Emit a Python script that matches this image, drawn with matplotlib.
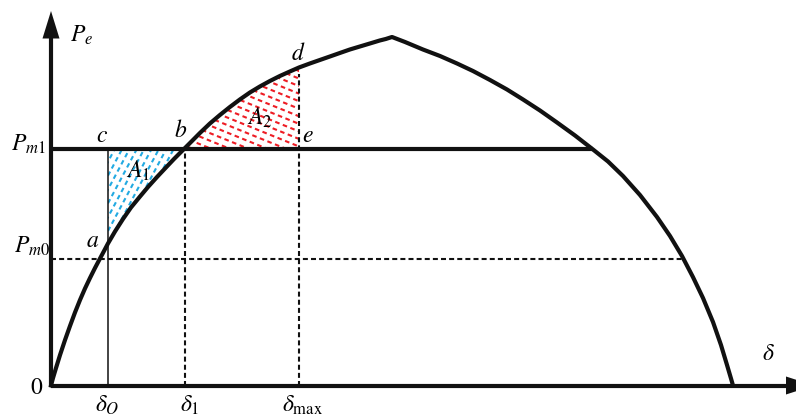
import numpy as np
import matplotlib
matplotlib.use("Agg")
import matplotlib.pyplot as plt
from matplotlib.patches import Polygon
from matplotlib.lines import Line2D

plt.rcParams["mathtext.fontset"] = "stix"
plt.rcParams["font.family"] = ["Liberation Serif", "DejaVu Serif"]

# Power-angle curve P_e(delta): angle in degrees, power in per unit of P_max
delta_deg = [0.00, 0.53, 1.32, 2.38, 3.70, 5.01, 6.33, 7.65, 8.97, 10.29, 11.61,
             12.93, 13.99, 15.04, 16.89, 19.00, 21.11, 23.49, 25.60, 27.98, 30.09,
             32.46, 34.97, 37.21, 39.30, 41.94, 44.58, 47.21, 49.85, 52.49, 55.13,
             57.77, 60.40, 63.04, 65.45, 68.32, 70.95, 73.59, 76.23, 78.87, 81.50,
             84.14, 86.78, 88.36, 90.00,
             93.43, 98.18, 102.67, 107.16, 111.38, 115.87, 120.35, 124.58, 129.06,
             133.55, 138.30, 143.05, 147.01, 150.97, 155.45, 159.94, 163.37, 166.54,
             169.44, 172.08, 174.72, 176.83, 178.42, 179.47, 180.00]
pe_curve = [0.0, 0.0215, 0.0502, 0.0875, 0.1306, 0.1707, 0.2095, 0.2453, 0.2783,
            0.3085, 0.3372, 0.3644, 0.3859, 0.4075, 0.4419, 0.4778, 0.5108, 0.5423,
            0.5696, 0.5983, 0.6227, 0.6499, 0.6772, 0.7016, 0.7245, 0.7518, 0.7762,
            0.7991, 0.8207, 0.8407, 0.8580, 0.8737, 0.8881, 0.9010, 0.9125, 0.9240,
            0.9340, 0.9440, 0.9541, 0.9641, 0.9727, 0.9813, 0.9900, 0.9943, 1.0,
            0.9857, 0.9641, 0.9455, 0.9240, 0.9024, 0.8766, 0.8494, 0.8207, 0.7891,
            0.7547, 0.7174, 0.6772, 0.6428, 0.6011, 0.5466, 0.4835, 0.4290, 0.3716,
            0.3110, 0.2511, 0.1822, 0.1162, 0.0588, 0.0201, 0.0]

# Mechanical power levels and characteristic angles
pm0 = 0.363
pm1 = 0.6772
delta_0 = 15.04
delta_1 = 35.3
delta_max = 65.45

# drawing scale (pixels per unit) and origin position
W, H = 796, 416
x0_px, y0_px = 51.0, 385.5
kx = 682.0 / 180.0
ky = 348.5

fig = plt.figure(figsize=(W / 100, H / 100), dpi=100)
ax = fig.add_axes([0, 0, 1, 1])
ax.set_xlim(-x0_px / kx, (W - x0_px) / kx)
ax.set_ylim(-(H - y0_px) / ky, y0_px / ky)
ax.axis("off")


def px(x, y):
    """Pixel position on the canvas -> data coordinates."""
    return (x - x0_px) / kx, (y0_px - y) / ky


deg = np.array(delta_deg)
pe = np.array(pe_curve)
peak = int(np.argmax(pe))
deg_l, pe_l = deg[:peak + 1], pe[:peak + 1]
deg_r, pe_r = deg[peak:], pe[peak:]

black = "#111111"
thick = 3.0

# axes with arrow heads
ax.plot([0, 0], [0, px(0, 38)[1]], color=black, lw=thick, solid_capstyle="butt")
ax.plot([0, px(787, 0)[0]], [0, 0], color=black, lw=thick, solid_capstyle="butt")
ax.add_patch(Polygon([px(51, 11), px(42.5, 38.5), px(59.5, 38.5)], closed=True,
                     color=black, lw=0))
ax.add_patch(Polygon([px(814, 385.5), px(786, 376.5), px(786, 394.5)], closed=True,
                     color=black, lw=0))

# hatched areas A1 (acceleration) and A2 (deceleration)
delta_b = np.interp(pm1, pe_l, deg_l)
p_d0 = np.interp(delta_0, deg_l, pe_l)
p_dmax = np.interp(delta_max, deg_l, pe_l)
m1 = (deg_l > delta_0) & (deg_l < delta_b)
poly1 = [(delta_0, pm1), (delta_0, p_d0)] + list(zip(deg_l[m1], pe_l[m1])) + [(delta_b, pm1)]
m2 = (deg_l > delta_b) & (deg_l < delta_max)
poly2 = [(delta_b, pm1)] + list(zip(deg_l[m2], pe_l[m2])) + [(delta_max, p_dmax), (delta_max, pm1)]


def hatch(poly, angle, spacing, color):
    patch = Polygon(poly, closed=True, facecolor="none", edgecolor="none")
    ax.add_patch(patch)
    disp = ax.transData.transform(np.array(poly))
    c = disp.mean(axis=0)
    R = np.max(np.linalg.norm(disp - c, axis=1)) + 5
    d = np.array([np.cos(np.radians(angle)), np.sin(np.radians(angle))])
    n = np.array([-d[1], d[0]])
    inv = ax.transData.inverted()
    for o in np.arange(-R, R, spacing):
        seg = inv.transform(np.array([c + n * o - d * R, c + n * o + d * R]))
        ln = Line2D(seg[:, 0], seg[:, 1], color=color, lw=1.5,
                    linestyle=(0, (2.2, 1.7)))
        ax.add_line(ln)
        ln.set_clip_path(patch)


hatch(poly1, 62, 6.5, "#22aae2")
hatch(poly2, -22, 7.0, "#ee1c24")

# P_m1 line up to its second intersection with the curve, then P_e(delta)
d_pm1_r = np.interp(-pm1, -pe_r, deg_r)
d_pm0_r = np.interp(-pm0, -pe_r, deg_r)
ax.plot([0, d_pm1_r], [pm1, pm1], color=black, lw=thick, solid_capstyle="butt")
ax.plot(deg, pe, color=black, lw=thick, solid_joinstyle="round")

# guide lines
dash = dict(color=black, lw=1.5, linestyle=(0, (2.4, 1.5)))
ax.plot([0, d_pm0_r], [pm0, pm0], **dash)
ax.plot([delta_1, delta_1], [0, pm1], **dash)
ax.plot([delta_max, delta_max], [0, p_dmax - 0.02], **dash)
ax.plot([delta_0, delta_0], [0, pm1], color=black, lw=1.1)

# labels
fs = 17


def label(x, y, s, size=fs, ha="left", va="baseline"):
    ax.text(*px(x, y), s, fontsize=size, ha=ha, va=va)


label(70, 42, r"$P_e$")
label(11, 151, r"$P_{m1}$")
label(14, 253, r"$P_{m0}$")
label(96, 142, r"$c$")
label(174, 137, r"$b$")
label(86, 247, r"$a$")
label(291, 60, r"$d$")
label(302, 142, r"$e$")
label(126, 178, r"$A_1$")
label(247, 125, r"$A_2$")
label(37, 388, r"$0$", ha="center", va="center")
label(95, 412, r"$\delta_O$")
label(180, 412, r"$\delta_1$")
label(282, 412, r"$\delta_{\rm max}$")
label(768, 355, r"$\delta$", ha="center", va="center")

fig.savefig("out.png", dpi=100)
